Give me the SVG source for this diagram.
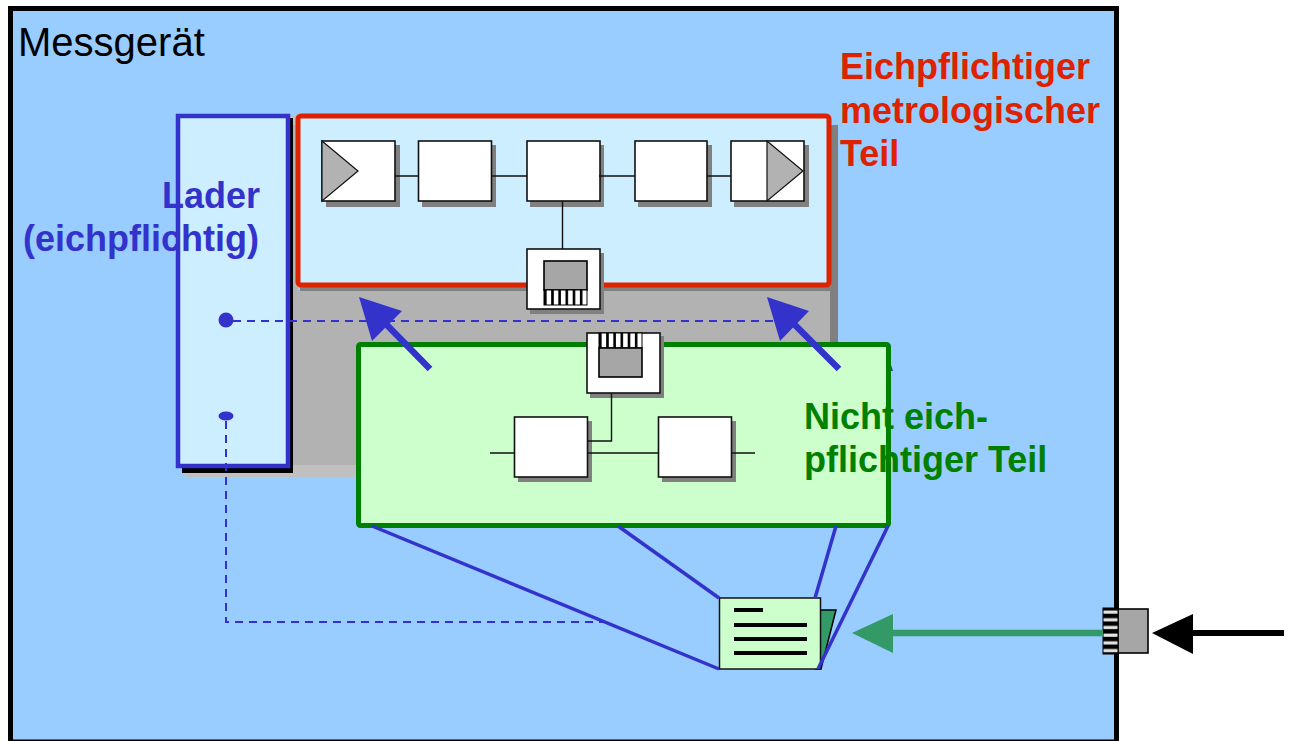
<svg xmlns="http://www.w3.org/2000/svg" width="1290" height="741" viewBox="0 0 1290 741">
<style>
text{font-family:"Liberation Sans",Arial,sans-serif}
.lbl{font-size:36px;font-weight:bold}
.box{fill:#fff;stroke:#111;stroke-width:1.6}
.sh{fill:#808080}
.wire{stroke:#111;stroke-width:1.4;fill:none}
.tri{fill:#b2b2b2;stroke:#111;stroke-width:1.2}
.dash{stroke:#3333cc;stroke-width:2;stroke-dasharray:8 6;fill:none}
.blue{stroke:#3333cc;stroke-width:3.5;fill:none}
.arrow{stroke:#3333cc;stroke-width:6.500;fill:none}
.af{fill:#3333cc}
.port{fill:#a6a6a6;stroke:#000;stroke-width:1.6}
</style>
<defs>
<pattern id="teeth" x="544" width="7.170" height="10" patternUnits="userSpaceOnUse"><rect width="7.170" height="10" fill="#fff"/><rect width="2.600" height="10" fill="#000"/></pattern>
<pattern id="teeth2" x="599" width="7.170" height="10" patternUnits="userSpaceOnUse"><rect width="7.170" height="10" fill="#fff"/><rect width="2.600" height="10" fill="#000"/></pattern>
<pattern id="teethV" y="608" width="10" height="7.700" patternUnits="userSpaceOnUse"><rect width="10" height="7.700" fill="#000"/><rect y="2.500" width="10" height="3.200" fill="#e4e4e4"/></pattern>
</defs>
<rect width="1290" height="741" fill="#fff"/>
<g id="messgeraet">
<rect x="10.500" y="8.500" width="1106" height="733.500" fill="#99ccff" stroke="#000" stroke-width="5"/>
<text x="18" y="56" font-size="40">Messgerät</text>
</g>
<g id="backplane">
<rect x="186" y="296" width="180" height="181" fill="#c0c0c0"/>
<rect x="288" y="115" width="12" height="10" fill="#c0c0c0"/>
<rect x="300" y="125" width="538" height="248" fill="#808080"/>
<rect x="290" y="290" width="540" height="175" fill="#b2b2b2"/>
<rect x="300" y="284" width="530" height="7" fill="#808080"/>
<rect x="290" y="125" width="8" height="170" fill="#b2b2b2"/>
</g>
<g id="metrologisch">
<rect x="298" y="116" width="531" height="169" rx="3" fill="#cceeff" stroke="#dd2200" stroke-width="5"/>
<text class="lbl" x="840" y="79" fill="#dd2200">Eichpflichtiger</text>
<text class="lbl" x="840" y="123" fill="#dd2200">metrologischer</text>
<text class="lbl" x="840" y="166" fill="#dd2200">Teil</text>
</g>
<g id="lader">
<rect x="182" y="118" width="111" height="355" fill="#000"/>
<rect x="178" y="116" width="110" height="350" fill="#cceeff" stroke="#3333cc" stroke-width="4.500"/>
<text class="lbl" x="162" y="208" fill="#3333cc">Lader</text>
<text class="lbl" x="23" y="251" fill="#3333cc">(eichpflichtig)</text>
<circle cx="226" cy="320" r="7.500" class="af"/>
<ellipse cx="226" cy="416" rx="7.500" ry="4.500" class="af"/>
</g>
<g id="nicht-eichpflichtig">
<path d="M890 362L893 371H890Z" class="af"/>
<rect x="358.500" y="344.500" width="530" height="181" rx="2" fill="#ccffcc" stroke="#008000" stroke-width="5"/>
<text class="lbl" x="804" y="429" fill="#008000">Nicht eich-</text>
<text class="lbl" x="804" y="472" fill="#008000">pflichtiger Teil</text>
</g>
<g id="block-in">
<rect class="sh" x="326" y="145" width="74" height="62"/>
<rect class="box" x="322" y="141" width="73" height="60"/>
<path class="tri" d="M322 141L358 171L322 201Z"/>
</g>
<g id="block-2"><rect class="sh" x="422" y="145" width="74" height="62"/><rect class="box" x="418.500" y="141" width="73" height="60"/></g>
<g id="block-3"><rect class="sh" x="530" y="145" width="74" height="62"/><rect class="box" x="527" y="141" width="73" height="60"/></g>
<g id="block-4"><rect class="sh" x="638" y="145" width="74" height="62"/><rect class="box" x="635" y="141" width="72" height="60"/></g>
<g id="block-out">
<rect class="sh" x="734" y="145" width="75" height="62"/>
<rect class="box" x="731" y="141" width="73" height="60"/>
<path class="tri" d="M767 141L803 171L767 201Z"/>
</g>
<g id="port-upper">
<rect class="sh" x="530" y="253" width="74" height="61"/>
<rect class="box" x="527" y="249" width="73" height="60"/>
<rect class="port" x="544" y="261" width="43" height="29"/>
<rect x="544" y="290" width="43" height="15" fill="url(#teeth)" stroke="#000" stroke-width="1"/>
</g>
<g id="port-lower">
<rect class="sh" x="590" y="336" width="74" height="62"/>
<rect class="box" x="587" y="333" width="73" height="60"/>
<rect x="599" y="333" width="43" height="15" fill="url(#teeth2)" stroke="#000" stroke-width="1"/>
<rect class="port" x="599" y="348" width="43" height="29"/>
</g>
<g id="block-a"><rect class="sh" x="518" y="421" width="74" height="61"/><rect class="box" x="514.500" y="417" width="73" height="60"/></g>
<g id="block-b"><rect class="sh" x="662" y="421" width="74" height="61"/><rect class="box" x="658.500" y="417" width="73" height="60"/></g>
<g id="document">
<path d="M820 610H836L821 669H816Z" fill="#339966" stroke="#000" stroke-width="1.500"/>
<rect x="719.500" y="598" width="101" height="71" fill="#ccffcc" stroke="#111" stroke-width="1.500"/>
<path d="M734 610H763M734 625H807M734 639H807M734 653H807" stroke="#000" stroke-width="4" fill="none"/>
</g>
<g id="connector-port">
<rect class="port" x="1118" y="609" width="30" height="44"/>
<rect x="1103" y="608" width="15" height="46" fill="url(#teethV)" stroke="#000" stroke-width="1"/>
</g>
<g id="connectors">
<path class="wire" d="M395 176H418M491 176H527M599 176H635M707 176H731M562.500 201V249"/>
<path class="wire" d="M490 453H515M587 453H659M731 453H755M587 441H611.500V393"/>
<path class="dash" d="M233 321H790"/>
<path class="dash" d="M226 421V622H612"/>
<path class="blue" d="M372 526L719 669M618 526L719 598M836 526L815 598M888 526L818 669"/>
<path class="arrow" d="M430 369L382 320M839 369L790 320"/>
<path class="af" d="M359 297L402 311L372 341Z"/>
<path class="af" d="M767 297L809 311L780 341Z"/>
<path d="M892 633H1103" stroke="#339966" stroke-width="6.500" fill="none"/>
<path d="M852 633L893 614V653Z" fill="#339966"/>
<path d="M1192 633H1284" stroke="#000" stroke-width="6" fill="none"/>
<path d="M1152 633L1193 614V654Z" fill="#000"/>
</g>
</svg>
